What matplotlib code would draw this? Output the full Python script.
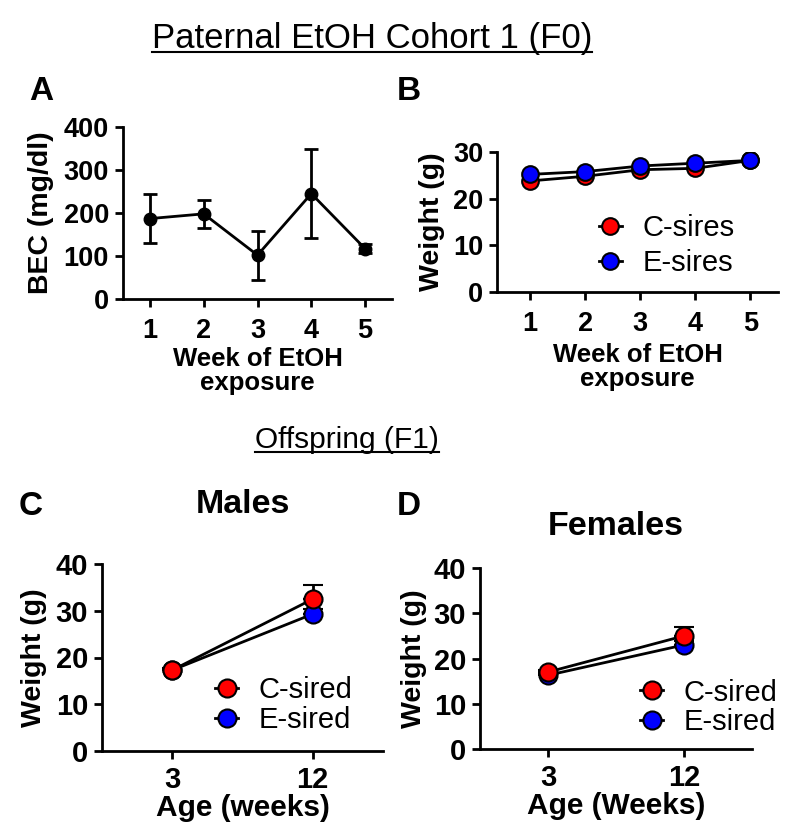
import matplotlib
matplotlib.use('Agg')
import matplotlib.pyplot as plt
from matplotlib.lines import Line2D

plt.rcParams['font.family'] = ['Liberation Sans', 'DejaVu Sans']

# Panel A - BEC
weeks = [1, 2, 3, 4, 5]
bec = [187, 198, 102, 245, 117]
bec_err = [57, 33, 57, 104, 10]

# Panel B - sire weights
c_sires = [23.8, 24.8, 26.2, 26.5, 28.2]
e_sires = [25.2, 25.8, 27.0, 27.6, 28.2]

# Panels C/D - offspring weights
ages = ['3', '12']
male_c = [17.3, 32.5]
male_c_err = [0.4, 3.0]
male_e = [17.3, 29.3]
male_e_err = [0.4, 1.0]
fem_c = [17.0, 25.0]
fem_c_err = [0.4, 2.0]
fem_e = [16.3, 23.0]
fem_e_err = [0.4, 0.8]

W, H = 800, 839
fig = plt.figure(figsize=(W / 100, H / 100), dpi=100)


def add_ax(x0, y0, x1, y1):
    return fig.add_axes([x0 / W, (H - y1) / H, (x1 - x0) / W, (y1 - y0) / H])


def style(ax, size, xpad):
    for s in ['top', 'right']:
        ax.spines[s].set_visible(False)
    for s in ['left', 'bottom']:
        ax.spines[s].set_linewidth(2)
    ax.tick_params(width=2, length=6, labelsize=size, pad=4)
    ax.tick_params(axis='x', pad=xpad)
    for lab in ax.get_xticklabels() + ax.get_yticklabels():
        lab.set_fontweight('bold')


def handles(labels_colors, ms):
    return [Line2D([], [], color='black', lw=2, marker='o', ms=ms, mfc=c,
                   mec='black', mew=1.5, label=l) for l, c in labels_colors]


# A
axA = add_ax(123, 127, 392, 299)
axA.errorbar(weeks, bec, yerr=bec_err, color='black', marker='o', ms=9,
             lw=2, capsize=5, capthick=2, elinewidth=2)
axA.set_xlim(0.5, 5.5)
axA.set_ylim(0, 400)
axA.set_yticks([0, 100, 200, 300, 400])
axA.set_xticks(weeks)
axA.set_ylabel('BEC (mg/dl)', fontsize=20.5, fontweight='bold', labelpad=7)
axA.set_xlabel('Week of EtOH\nexposure', fontsize=18.5, fontweight='bold',
               linespacing=1.0, labelpad=2)
style(axA, 19.5, 8)

# B
axB = add_ax(497, 152, 778, 292)
axB.plot(weeks, c_sires, color='black', lw=2, marker='o', ms=12,
         mfc='red', mec='black', mew=1.5)
axB.plot(weeks, e_sires, color='black', lw=2, marker='o', ms=12,
         mfc='blue', mec='black', mew=1.5)
axB.set_xlim(0.4, 5.5)
axB.set_ylim(0, 30)
axB.set_yticks([0, 10, 20, 30])
axB.set_xticks(weeks)
axB.set_ylabel('Weight (g)', fontsize=20.5, fontweight='bold', labelpad=6)
axB.set_xlabel('Week of EtOH\nexposure', fontsize=18.5, fontweight='bold',
               linespacing=1.0, labelpad=4)
axB.legend(handles=handles([('C-sires', 'red'), ('E-sires', 'blue')], 12),
           frameon=False, fontsize=21, loc='center left', bbox_to_anchor=(0.31, 0.33),
           borderpad=0, handlelength=0.8, handletextpad=0.7, labelspacing=0.25)
style(axB, 19.5, 8)


def offspring(ax, c_vals, c_err, e_vals, e_err, xlabel, title, title_y, legend_anchor, ypad):
    x = [0, 1]
    ax.errorbar(x, e_vals, yerr=[[0, 0], e_err], color='black', lw=2, marker='o', ms=13,
                mfc='blue', mec='black', mew=1.5, capsize=7, capthick=2, elinewidth=2)
    ax.errorbar(x, c_vals, yerr=[[0, 0], c_err], color='black', lw=2, marker='o', ms=13,
                mfc='red', mec='black', mew=1.5, capsize=7, capthick=2, elinewidth=2)
    ax.set_xlim(-0.5, 1.5)
    ax.set_ylim(0, 40)
    ax.set_yticks([0, 10, 20, 30, 40])
    ax.set_xticks(x)
    ax.set_xticklabels(ages)
    ax.set_ylabel('Weight (g)', fontsize=20.5, fontweight='bold', labelpad=ypad)
    ax.set_xlabel(xlabel, fontsize=21.5, fontweight='bold', labelpad=0)
    ax.set_title(title, fontsize=24.5, fontweight='bold', y=title_y)
    ax.legend(handles=handles([('C-sired', 'red'), ('E-sired', 'blue')], 13),
              frameon=False, fontsize=21, loc='center left', bbox_to_anchor=legend_anchor,
              borderpad=0, handlelength=0.8, handletextpad=0.7, labelspacing=0.05)
    style(ax, 21, 5)


axC = add_ax(102, 564, 383, 751)
offspring(axC, male_c, male_c_err, male_e, male_e_err, 'Age (weeks)', 'Males', 1.23,
          (0.35, 0.245), 6)
axD = add_ax(480, 568, 752, 749)
offspring(axD, fem_c, fem_c_err, fem_e, fem_e_err, 'Age (Weeks)', 'Females', 1.135,
          (0.535, 0.23), 5)

# panel letters
for letter, x, y in [('A', 29, 100), ('B', 397, 100), ('C', 19, 515), ('D', 397, 515)]:
    fig.text(x / W, 1 - y / H, letter, fontsize=24, fontweight='bold')

# underlined section headings
for txt, xc, yb, fs in [('Paternal EtOH Cohort 1 (F0)', 372, 48, 25),
                        ('Offspring (F1)', 347, 448, 21.5)]:
    t = fig.text(xc / W, 1 - yb / H, txt, fontsize=fs, ha='center', va='baseline')
    fig.canvas.draw()
    bb = t.get_window_extent()
    yl = 1 - (yb + 4) / H
    fig.add_artist(Line2D([bb.x0 / W, bb.x1 / W], [yl, yl], color='black', lw=1.5))

fig.savefig('out.png', dpi=100)
